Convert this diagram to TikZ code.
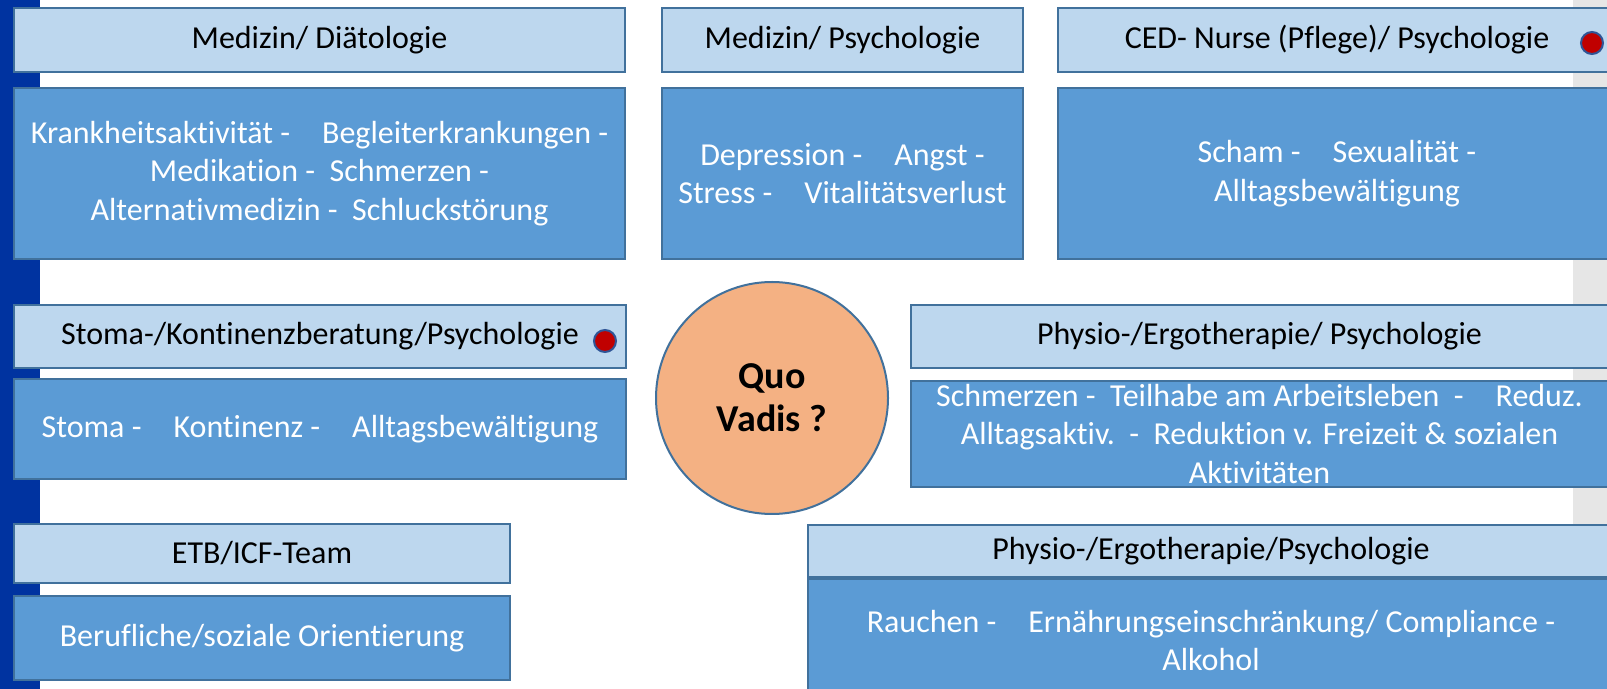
\documentclass[tikz,border=0pt]{standalone}
\usepackage{fontspec}
\setmainfont{Carlito}[Ligatures=NoCommon]
\usepackage{xcolor}
\usepackage{tikz}
\usetikzlibrary{positioning, shapes.geometric}
\definecolor{barblue}{RGB}{0,51,160}
\definecolor{bargray}{RGB}{230,230,230}
\definecolor{headblue}{RGB}{189,215,238}
\definecolor{bodyblue}{RGB}{91,155,213}
\definecolor{boxline}{RGB}{65,113,156}
\definecolor{quoorange}{RGB}{244,177,131}
\definecolor{dotred}{RGB}{192,0,0}
\definecolor{dotline}{RGB}{47,85,151}
\tikzstyle{head} = [rectangle, draw=boxline, fill=headblue, line width=1pt,
    inner sep=0pt, align=center, font=\fontsize{16}{19.2}\selectfont]
\tikzstyle{body} = [rectangle, draw=boxline, fill=bodyblue, text=white, line width=1pt,
    inner sep=0pt, align=center, font=\fontsize{16}{19.2}\selectfont]
\tikzstyle{quo} = [circle, draw=boxline, fill=quoorange, line width=1pt,
    minimum size=116pt, align=center, font=\fontsize{19}{21.5}\selectfont\bfseries]
\tikzstyle{reddot} = [circle, draw=dotline, fill=dotred, line width=1pt,
    minimum size=11pt, inner sep=0pt]

\begin{document}
\begin{tikzpicture}[x=0.5pt, y=-0.5pt]
                \useasboundingbox (0,0) rectangle (1607,689);
                \clip (0,0) rectangle (1607,689);
                \fill [white] (0,0) rectangle (1607,689);
                \fill [barblue] (0,0) rectangle (40,689);
                \fill [bargray] (1573,0) rectangle (1607,689);

                % Top row
                \node [head, minimum width=305.5pt, minimum height=32pt] (diaet) at (319.5,40) {Medizin/ Diätologie};
                \node [body, minimum width=305.5pt, minimum height=85.5pt, below=7pt of diaet] (diaetText)
                    {Krankheitsaktivität -\quad Begleiterkrankungen -\\Medikation -\ \ Schmerzen -\\Alternativmedizin -\ \ Schluckstörung};

                \node [head, minimum width=180.5pt, minimum height=32pt] (psych) at (842.5,40) {Medizin/ Psychologie};
                \node [body, minimum width=180.5pt, minimum height=85.5pt, below=7pt of psych] (psychText)
                    {Depression -\quad Angst -\\Stress -\quad Vitalitätsverlust};

                \node [head, minimum width=279pt, minimum height=32pt] (nurse) at (1337,40) {CED- Nurse (Pflege)/ Psychologie};
                \node [body, minimum width=279pt, minimum height=85.5pt, below=7pt of nurse] (nurseText)
                    {Scham -\quad Sexualität -\\Alltagsbewältigung};
                \node [reddot] (dotNurse) at (1592,43) {};

                % Middle row
                \node [head, minimum width=306pt, minimum height=31.5pt] (stoma) at (320,336.5) {Stoma-/Kontinenzberatung/Psychologie};
                \node [body, minimum width=306pt, minimum height=50pt, below=4.5pt of stoma] (stomaText)
                    {Stoma -\quad Kontinenz -\quad Alltagsbewältigung};
                \node [reddot] (dotStoma) at (605,341) {};

                \node [quo] (quo) at (772,398) {Quo\\Vadis ?};

                \node [head, minimum width=348.5pt, minimum height=31.5pt] (physio) at (1259.5,336.5) {Physio-/Ergotherapie/ Psychologie};
                \node [body, minimum width=348.5pt, minimum height=53pt, below=5.5pt of physio] (physioText)
                    {Schmerzen -\ \ Teilhabe am Arbeitsleben\ \ -\quad Reduz.\\Alltagsaktiv.\ \ -\ \ Reduktion v. Freizeit \& sozialen\\Aktivitäten};

                % Bottom row
                \node [head, minimum width=248pt, minimum height=29.5pt] (etb) at (262,553.5) {ETB/ICF-Team};
                \node [body, minimum width=248pt, minimum height=42pt, below=5.5pt of etb] (etbText)
                    {Berufliche/soziale Orientierung};

                \node [head, minimum width=403pt, minimum height=26pt] (ergo) at (1211,551) {Physio-/Ergotherapie/Psychologie};
                \node [body, minimum width=403pt, minimum height=61.5pt, below=0pt of ergo] (ergoText)
                    {Rauchen -\quad Ernährungseinschränkung/ Compliance -\\Alkohol};

            \end{tikzpicture}
\end{document}
